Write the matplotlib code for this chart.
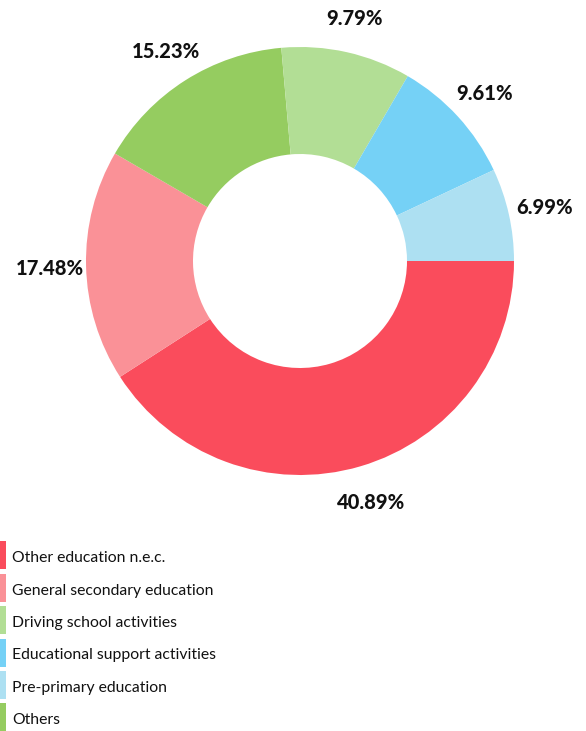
import matplotlib.pyplot as plt
from matplotlib.patches import Rectangle

# Data (pie order, clockwise from 3 o'clock)
pie_labels = ["Other education n.e.c.", "General secondary education", "Others",
              "Driving school activities", "Educational support activities",
              "Pre-primary education"]
pie_values = [40.89, 17.48, 15.23, 9.79, 9.61, 6.99]
pie_colors = ["#FA4C5C", "#FA9197", "#95CC60", "#B2DE95", "#75D1F6", "#ADE0F2"]

legend_order = ["Other education n.e.c.", "General secondary education",
                "Driving school activities", "Educational support activities",
                "Pre-primary education", "Others"]

plt.rcParams["font.family"] = ["Lato", "DejaVu Sans"]

W, H = 586, 731
fig = plt.figure(figsize=(W / 100, H / 100), dpi=100)

# donut axes, center (300, 261) px, radius 214 px
cx, cy, r = 300, 261, 214
ax = fig.add_axes([(cx - r) / W, (H - cy - r) / H, 2 * r / W, 2 * r / H])
wedges, texts, autotexts = ax.pie(
    pie_values, colors=pie_colors, startangle=0, counterclock=False,
    radius=1, wedgeprops=dict(width=0.5, linewidth=0),
    autopct="%.2f%%", pctdistance=1.17,
    textprops=dict(fontsize=14.5, fontweight="black", color="#111111"))
for t in autotexts:
    t.set_va("center_baseline")
ax.set_xlim(-1, 1)
ax.set_ylim(-1, 1)
ax.set_aspect("equal")
ax.axis("off")

# legend
color_map = dict(zip(pie_labels, pie_colors))
for i, name in enumerate(legend_order):
    top = 541 + i * 32.5
    fig.patches.append(Rectangle((0, 1 - (top + 28) / H), 6 / W, 28 / H,
                                 transform=fig.transFigure,
                                 color=color_map[name], linewidth=0))
    fig.text(12 / W, 1 - (top + 17) / H, name, fontsize=11.3,
             color="#111111", va="center", ha="left")

fig.savefig("out.png", dpi=100)
